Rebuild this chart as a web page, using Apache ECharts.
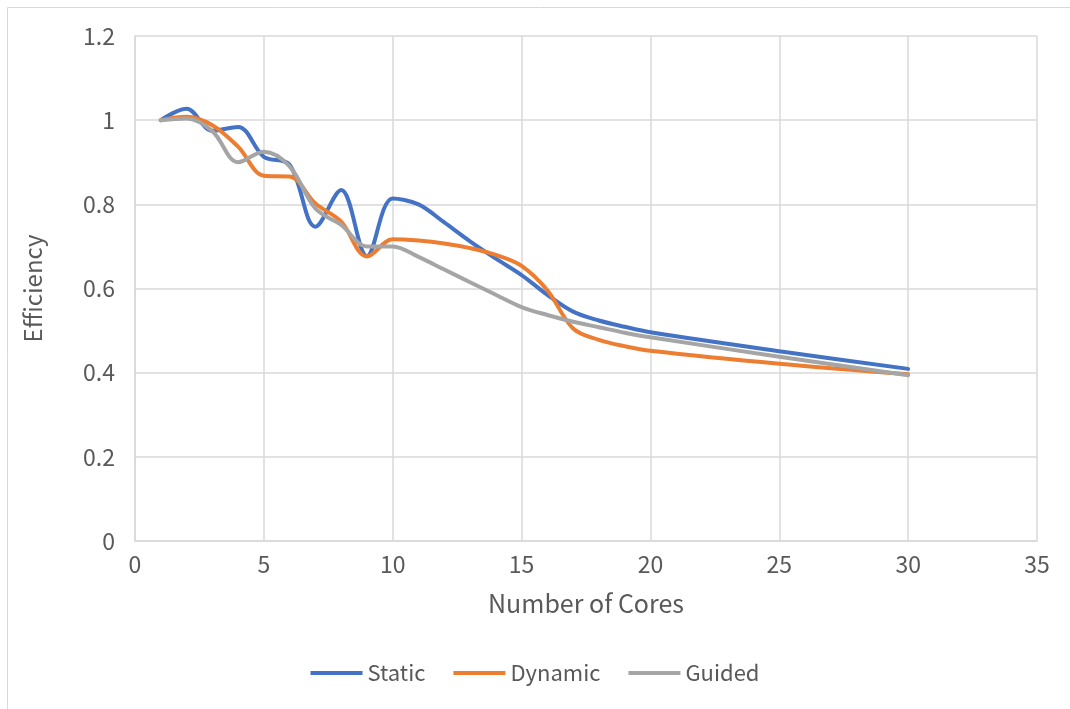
<!DOCTYPE html>
<html>
<head>
<meta charset="utf-8">
<script src="https://cdn.jsdelivr.net/npm/echarts@6/dist/echarts.min.js"></script>
<style>
html,body{margin:0;padding:0;background:#fff;}
#chart{width:1070px;height:709px;}
</style>
</head>
<body>
<div id="chart"></div>
<script>
const cores = [1,2,3,4,5,6,7,8,9,10,11,12,13,14,15,16,17,18,19,20,25,30];
const staticEff = [1.0,1.027,0.975,0.984,0.913,0.894,0.747,0.834,0.677,0.814,0.800,0.757,0.712,0.671,0.632,0.585,0.545,0.524,0.509,0.496,0.451,0.409];
const dynamicEff = [1.0,1.008,0.988,0.937,0.868,0.866,0.802,0.759,0.676,0.717,0.714,0.707,0.696,0.680,0.654,0.596,0.505,0.478,0.463,0.452,0.421,0.396];
const guidedEff = [1.0,1.004,0.974,0.900,0.925,0.890,0.790,0.751,0.700,0.700,0.675,0.645,0.615,0.585,0.556,0.537,0.521,0.508,0.495,0.484,0.438,0.394];
const seriesNames = ['Static','Dynamic','Guided'];
const seriesColors = ['#4472C4','#ED7D31','#A5A5A5'];

const chart = echarts.init(document.getElementById('chart'));
const font = '"Noto Sans CJK SC", "Noto Sans", sans-serif';
function pairs(vals){ return cores.map((c,i)=>[c, vals[i]]); }
const allVals = [staticEff, dynamicEff, guidedEff];
chart.setOption({
  animation:false,
  backgroundColor:'#ffffff',
  graphic:[{type:'rect', shape:{x:7.5,y:7.5,width:1200,height:900}, style:{fill:'none',stroke:'#d9d9d9',lineWidth:1}, silent:true}],
  grid:{left:135, top:36, width:902, height:505, containLabel:false},
  xAxis:{
    type:'value', min:0, max:35, interval:5,
    name:'Number of Cores', nameLocation:'middle', nameGap:50,
    nameTextStyle:{fontFamily:font, fontSize:25, color:'#595959'},
    axisLine:{show:true, lineStyle:{color:'#d9d9d9', width:1.5}},
    axisTick:{show:false},
    axisLabel:{fontFamily:font, fontSize:23, color:'#595959', margin:12},
    splitLine:{show:true, lineStyle:{color:'#d9d9d9', width:1.5}}
  },
  yAxis:{
    type:'value', min:0, max:1.2, interval:0.2,
    name:'Efficiency', nameLocation:'middle', nameGap:90, nameRotate:90,
    nameTextStyle:{fontFamily:font, fontSize:24, color:'#595959'},
    axisLine:{show:true, lineStyle:{color:'#d9d9d9', width:1.5}},
    axisTick:{show:false},
    axisLabel:{fontFamily:font, fontSize:23, color:'#595959', margin:20,
      formatter:v=>String(Math.round(v*10)/10)},
    splitLine:{show:true, lineStyle:{color:'#d9d9d9', width:1.5}}
  },
  legend:{
    bottom:20, left:'center', itemWidth:52, itemHeight:4, itemGap:28,
    icon:'rect',
    textStyle:{fontFamily:font, fontSize:22, color:'#595959'},
    data:seriesNames
  },
  series: seriesNames.map((n,i)=>({
    name:n, type:'line', data:pairs(allVals[i]), smooth:0.35,
    symbol:'none', showSymbol:false,
    lineStyle:{color:seriesColors[i], width:4, cap:'round'},
    itemStyle:{color:seriesColors[i]}
  }))
});
</script>
</body>
</html>
